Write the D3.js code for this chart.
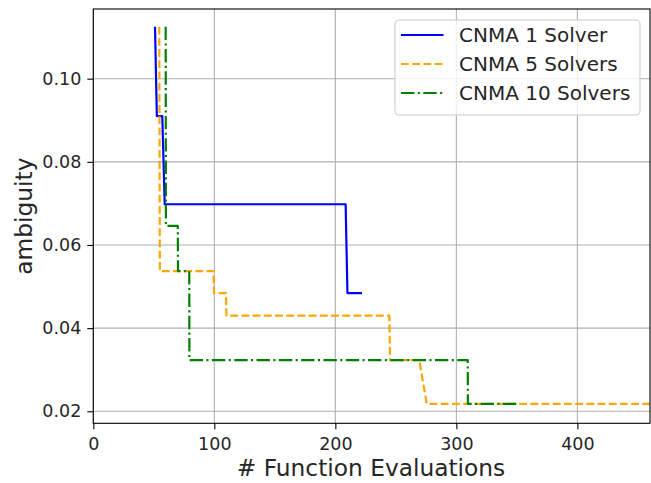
<!DOCTYPE html>
<html>
<head>
<meta charset="utf-8">
<script src="https://cdn.jsdelivr.net/npm/d3@7/dist/d3.min.js"></script>
<style>
  html, body { margin: 0; padding: 0; background: #fff; }
  svg { display: block; font-family: "DejaVu Sans", sans-serif; }
</style>
</head>
<body>
<svg id="chart" width="651" height="483"></svg>
<script>
// Convergence of ambiguity versus number of function evaluations
const seriesNames = ["CNMA 1 Solver", "CNMA 5 Solvers", "CNMA 10 Solvers"];

const evals1 = [51, 52.5, 57, 59, 208.5, 210, 222];
const ambig1 = [0.1125, 0.0910, 0.0910, 0.0698, 0.0698, 0.0484, 0.0484];

const evals5 = [54.5, 55, 99.3, 99.8, 109.7, 110, 244.6, 245.2, 269.4, 275.5, 460];
const ambig5 = [0.1125, 0.0537, 0.0537, 0.0484, 0.0484, 0.0430, 0.0430, 0.0323, 0.0323, 0.0218, 0.0218];

const evals10 = [59.8, 60, 69.8, 70, 79.3, 79.4, 309.4, 309.5, 350];
const ambig10 = [0.1125, 0.0646, 0.0646, 0.0537, 0.0537, 0.0323, 0.0323, 0.0218, 0.0218];

const xTicks = [0, 100, 200, 300, 400];
const yTicks = [0.02, 0.04, 0.06, 0.08, 0.10];

const svg = d3.select("#chart");
const margin = { left: 93.3, right: 1, top: 9, bottom: 59.7 };
const W = 651, H = 483;
const plotW = W - margin.left - margin.right;
const plotH = H - margin.top - margin.bottom;

const x = d3.scaleLinear().domain([0, 460]).range([margin.left, margin.left + plotW]);
const y = d3.scaleLinear().domain([0.01711, 0.11676]).range([margin.top + plotH, margin.top]);

svg.append("defs").append("clipPath").attr("id", "plotClip")
  .append("rect")
  .attr("x", margin.left).attr("y", margin.top)
  .attr("width", plotW).attr("height", plotH);

// grid
const grid = svg.append("g").attr("stroke", "#b0b0b0").attr("stroke-width", 1.1);
grid.selectAll("line.gx").data(xTicks).join("line")
  .attr("x1", d => x(d)).attr("x2", d => x(d))
  .attr("y1", margin.top).attr("y2", margin.top + plotH);
grid.selectAll("line.gy").data(yTicks).join("line")
  .attr("y1", d => y(d)).attr("y2", d => y(d))
  .attr("x1", margin.left).attr("x2", margin.left + plotW);

// series
const series = [
  { name: seriesNames[0], xs: evals1, ys: ambig1, color: "#0000ff", dash: null },
  { name: seriesNames[1], xs: evals5, ys: ambig5, color: "#ffa500", dash: "7.8,3.4" },
  { name: seriesNames[2], xs: evals10, ys: ambig10, color: "#008000", dash: "13.4,3.4,2.1,3.4" }
];

const line = d3.line().x(d => x(d[0])).y(d => y(d[1]));
const plotG = svg.append("g").attr("clip-path", "url(#plotClip)");
series.forEach(s => {
  const pts = s.xs.map((v, i) => [v, s.ys[i]]);
  plotG.append("path")
    .datum(pts)
    .attr("d", line)
    .attr("fill", "none")
    .attr("stroke", s.color)
    .attr("stroke-width", 2.2)
    .attr("stroke-linejoin", "round")
    .attr("stroke-dasharray", s.dash);
});

// axes
const xAxis = d3.axisBottom(x).tickValues(xTicks).tickSize(6).tickPadding(5)
  .tickFormat(d3.format("d"));
const yAxis = d3.axisLeft(y).tickValues(yTicks).tickSize(6).tickPadding(6)
  .tickFormat(d3.format(".2f"));

const gx = svg.append("g").attr("transform", `translate(0,${margin.top + plotH})`).call(xAxis);
const gy = svg.append("g").attr("transform", `translate(${margin.left},0)`).call(yAxis);
[gx, gy].forEach(g => {
  g.select(".domain").remove();
  g.selectAll(".tick line").attr("stroke", "#000").attr("stroke-width", 1.1);
  g.selectAll(".tick text").attr("fill", "#262626").style("font-size", "17.5px")
    .style("font-family", "DejaVu Sans");
});
gx.selectAll(".tick text").attr("dy", "0.9em");

// frame
svg.append("rect")
  .attr("x", margin.left).attr("y", margin.top)
  .attr("width", plotW).attr("height", plotH)
  .attr("fill", "none").attr("stroke", "#000").attr("stroke-width", 1.1);

// axis labels
svg.append("text")
  .attr("x", 371).attr("y", 476)
  .attr("text-anchor", "middle")
  .style("font-size", "23.3px").attr("fill", "#262626")
  .text("# Function Evaluations");

svg.append("text")
  .attr("transform", `translate(32,${margin.top + plotH / 2}) rotate(-90)`)
  .attr("text-anchor", "middle")
  .style("font-size", "23.3px").attr("fill", "#262626")
  .text("ambiguity");

// legend
const lg = svg.append("g");
lg.append("rect")
  .attr("x", 395).attr("y", 20).attr("width", 245).attr("height", 95)
  .attr("rx", 4).attr("ry", 4)
  .attr("fill", "#fff").attr("fill-opacity", 0.8)
  .attr("stroke", "#cccccc").attr("stroke-width", 1.1);
series.forEach((s, i) => {
  const cy = 35 + i * 29;
  lg.append("line")
    .attr("x1", 401).attr("x2", 443.5).attr("y1", cy).attr("y2", cy)
    .attr("stroke", s.color).attr("stroke-width", 2.2)
    .attr("stroke-dasharray", s.dash);
  lg.append("text")
    .attr("x", 459).attr("y", cy).attr("dy", "0.36em")
    .style("font-size", "20px").attr("fill", "#262626")
    .text(s.name);
});
</script>
</body>
</html>
